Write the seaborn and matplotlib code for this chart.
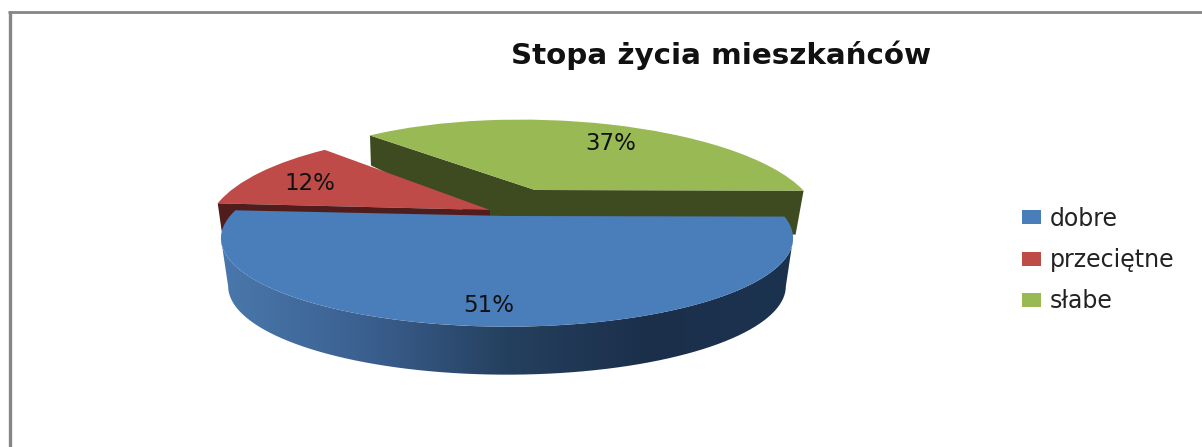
# Stopa zycia mieszkancow - exploded 3D style pie
import numpy as np
import matplotlib
matplotlib.use('Agg')
import matplotlib.pyplot as plt
import seaborn as sns
from matplotlib.patches import Polygon
from matplotlib.transforms import Transform

# Data
categories = ['dobre', 'przeciętne', 'słabe']
shares = [51, 12, 37]
title_text = 'Stopa życia mieszkańców'

# Colours
face_colors = ['#4A7EBB', '#BE4B48', '#98B954']
wall_red = '#501C1C'
wall_green = '#3E4A20'
frame_color = '#868686'
text_color = '#111111'

sns.set_theme(style='white')
plt.rcParams['font.family'] = ['DejaVu Sans']


class Tilt(Transform):
    # maps the unit disc of the pie to a slice of the tilted plate
    input_dims = 2
    output_dims = 2

    def __init__(self, cx, cy, rx, ry, skew=0.0, p=0.25):
        super().__init__()
        self.vals = (cx, cy, rx, ry, skew, p)

    def transform_non_affine(self, xy):
        cx, cy, rx, ry, skew, p = self.vals
        xy = np.asarray(xy, dtype=float)
        u, v = xy[:, 0], xy[:, 1]
        w = 1 + p * v
        return np.column_stack([cx + (rx * u + skew * v) / w, cy - ry * v / w])


def rim(tr, t1, t2, n=80):
    t = np.radians(np.linspace(t1, t2, n))
    return tr.transform_non_affine(np.column_stack([np.cos(t), np.sin(t)]))


fig = plt.figure(figsize=(12.02, 4.47), dpi=100)
ax = fig.add_axes([0, 0, 1, 1])

wedges, labels, pct = ax.pie(shares, colors=face_colors, startangle=-0.4, counterclock=False,
                             autopct='%d%%', textprops={'fontsize': 16.5, 'color': text_color})

ax.set_aspect('auto')
ax.set_xlim(0, 1202)
ax.set_ylim(447, 0)
ax.axis('off')

blue_top = Tilt(507, 216, 277, 83)
red_top = Tilt(490, 210, 277, 97, skew=-10)
green_top = Tilt(535, 190, 268, 88, skew=-18)
blue_low = Tilt(507, 264, 270, 83)

for w, tr in zip(wedges, [blue_top, red_top, green_top]):
    w.set_transform(tr + ax.transData)
    w.set_edgecolor('none')
    w.set_zorder(5)
wedges[1].set_zorder(3)
wedges[2].set_zorder(3)

# dark inner wall of the green slice
g = wedges[2]
tip = rim(green_top, g.theta2, g.theta2, 1)[0]
end = rim(green_top, g.theta1, g.theta1, 1)[0]
apex = green_top.transform_non_affine(np.array([[0.0, 0.0]]))[0]
ax.add_patch(Polygon([tip, apex, end, end + [-8, 44], apex + [-30, 40], tip + [1, 30]],
                     facecolor=wall_green, edgecolor='none', zorder=2))

# dark inner wall of the red slice
r = wedges[1]
r_end = rim(red_top, r.theta2, r.theta2, 1)[0]
r_apex = red_top.transform_non_affine(np.array([[0.0, 0.0]]))[0]
ax.add_patch(Polygon([r_end, r_apex, r_apex + [0, 8], r_end + [4, 28]],
                     facecolor=wall_red, edgecolor='none', zorder=4))

# blue outer wall with the shading from left to right
outline = np.vstack([rim(blue_top, 194.5, 345.5), rim(blue_low, 345.5, 194.5)])
side = Polygon(outline, facecolor='none', edgecolor='none', transform=ax.transData)
ax.add_patch(side)
shade = sns.blend_palette(['#4A78AC', '#3B6090', '#25405F', '#1B2F4A', '#1C3350'], as_cmap=True)
img = ax.imshow(np.linspace(0, 1, 256).reshape(1, -1), cmap=shade, aspect='auto',
                extent=(221, 793, 447, 0), zorder=4.5)
img.set_clip_path(side)
ax.set_xlim(0, 1202)
ax.set_ylim(447, 0)

# percent labels
for t, pos in zip(pct, [(489, 306), (310, 184), (611, 143)]):
    t.set_position(pos)
    t.set_ha('center')
    t.set_va('center')
    t.set_zorder(7)

# frame of the chart area
ax.plot([9.5, 9.5], [11, 447], color=frame_color, lw=2.4, solid_capstyle='butt')
ax.plot([8, 1202], [12, 12], color=frame_color, lw=2.0, solid_capstyle='butt')

ax.text(721, 55, title_text, ha='center', va='center', fontsize=21.2, fontweight='bold', color=text_color)

ax.legend(wedges, categories, loc='center left', bbox_to_anchor=(1001, 260), bbox_transform=ax.transData,
          frameon=False, fontsize=17, handlelength=0.8, handleheight=0.55, handletextpad=0.35,
          labelspacing=0.74, labelcolor='#222222')

fig.savefig('out.png', dpi=100)
